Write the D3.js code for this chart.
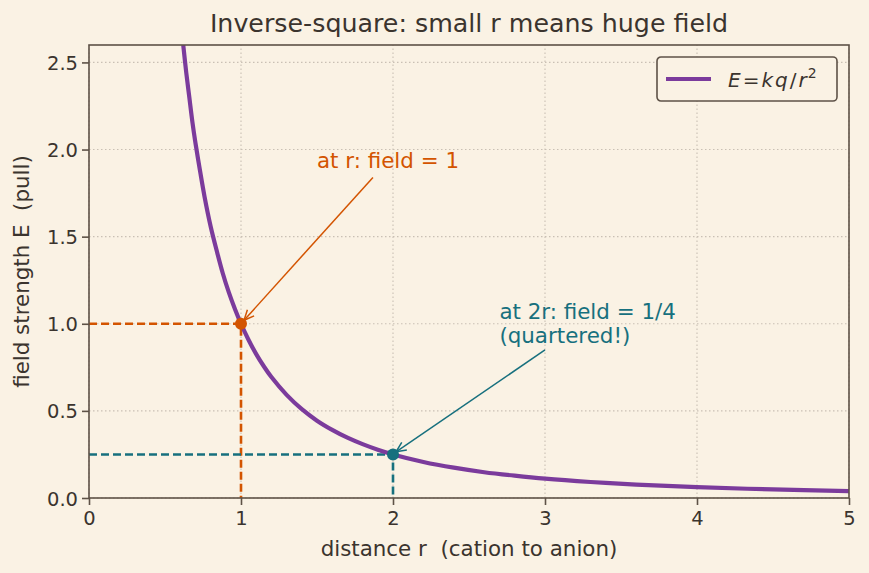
<!DOCTYPE html>
<html>
<head>
<meta charset="utf-8">
<script src="https://cdn.jsdelivr.net/npm/d3@7"></script>
<style>
  html, body { margin: 0; padding: 0; background: #faf2e4; }
  svg { display: block; font-family: "DejaVu Sans", sans-serif; }
  text { white-space: pre; }
</style>
</head>
<body>
<script>
'use strict';

// curve readings E(r)
const rValues = [0.62, 0.64, 0.66, 0.68, 0.70, 0.73, 0.76, 0.80, 0.84, 0.88, 0.92, 0.96, 1.00,
                 1.05, 1.10, 1.15, 1.20, 1.30, 1.40, 1.50, 1.60, 1.70, 1.80, 1.90, 2.00,
                 2.20, 2.40, 2.60, 2.80, 3.00, 3.30, 3.60, 4.00, 4.50, 5.00];
const eValues = [2.60, 2.44, 2.30, 2.16, 2.04, 1.88, 1.73, 1.56, 1.42, 1.29, 1.18, 1.085, 1.00,
                 0.907, 0.826, 0.756, 0.694, 0.592, 0.510, 0.444, 0.391, 0.346, 0.309, 0.277, 0.250,
                 0.207, 0.174, 0.148, 0.128, 0.111, 0.092, 0.077, 0.0625, 0.049, 0.040];

// marked points
const markR = [1, 2];
const markE = [1, 0.25];

const xTicks = [0, 1, 2, 3, 4, 5];
const yTicks = [0, 0.5, 1.0, 1.5, 2.0, 2.5];

const bg = '#faf2e4';
const ink = '#3b342e';
const spine = '#5e5247';
const purple = '#7b3b9c';
const orange = '#d35400';
const teal = '#17707e';

const W = 869, H = 573;
const m = { left: 89, right: 20, top: 45, bottom: 75 };

const svg = d3.select('body').append('svg')
  .attr('width', W)
  .attr('height', H);

svg.append('rect').attr('width', W).attr('height', H).attr('fill', bg);

const x = d3.scaleLinear().domain([0, 5]).range([m.left, W - m.right]);
const y = d3.scaleLinear().domain([0, 2.6]).range([H - m.bottom, m.top]);

// grid
svg.append('g')
  .selectAll('line')
  .data(xTicks)
  .enter().append('line')
  .attr('x1', d => x(d)).attr('x2', d => x(d))
  .attr('y1', y(0)).attr('y2', y(2.6))
  .attr('stroke', '#c9c0b4').attr('stroke-width', 1.1)
  .attr('stroke-dasharray', '1.5,2.5');

svg.append('g')
  .selectAll('line')
  .data(yTicks)
  .enter().append('line')
  .attr('y1', d => y(d)).attr('y2', d => y(d))
  .attr('x1', x(0)).attr('x2', x(5))
  .attr('stroke', '#c9c0b4').attr('stroke-width', 1.1)
  .attr('stroke-dasharray', '1.5,2.5');

svg.append('clipPath').attr('id', 'plot')
  .append('rect')
  .attr('x', x(0)).attr('y', y(2.6))
  .attr('width', x(5) - x(0)).attr('height', y(0) - y(2.6));

const plot = svg.append('g').attr('clip-path', 'url(#plot)');

// dashed guides
const guideColors = [orange, teal];
markR.forEach((r, i) => {
  plot.append('path')
    .attr('d', `M${x(0)},${y(markE[i])}H${x(r)}V${y(0)}`)
    .attr('fill', 'none')
    .attr('stroke', guideColors[i])
    .attr('stroke-width', 2.6)
    .attr('stroke-dasharray', '8,4');
});

// the curve
const curve = d3.line()
  .x((d, i) => x(rValues[i]))
  .y(d => y(d))
  .curve(d3.curveCatmullRom);

plot.append('path')
  .datum(eValues)
  .attr('fill', 'none')
  .attr('stroke', purple)
  .attr('stroke-width', 4.2)
  .attr('d', curve);

// points
markR.forEach((r, i) => {
  svg.append('circle')
    .attr('cx', x(r)).attr('cy', y(markE[i]))
    .attr('r', 6)
    .attr('fill', guideColors[i]);
});

// axes
const xAxis = d3.axisBottom(x).tickValues(xTicks).tickFormat(d3.format('d')).tickSizeOuter(0).tickSize(7).tickPadding(6);
const yAxis = d3.axisLeft(y).tickValues(yTicks).tickFormat(d3.format('.1f')).tickSizeOuter(0).tickSize(7).tickPadding(4);

const gx = svg.append('g').attr('transform', `translate(0,${y(0)})`).call(xAxis);
const gy = svg.append('g').attr('transform', `translate(${x(0)},0)`).call(yAxis);
[gx, gy].forEach(g => {
  g.select('.domain').remove();
  g.selectAll('line').attr('stroke', spine).attr('stroke-width', 1.6);
  g.selectAll('text').attr('fill', ink).style('font-size', '19.5px').style('font-family', '"DejaVu Sans", sans-serif');
});
gy.selectAll('text').attr('dy', '0.36em');

// frame
svg.append('rect')
  .attr('x', x(0)).attr('y', y(2.6))
  .attr('width', x(5) - x(0)).attr('height', y(0) - y(2.6))
  .attr('fill', 'none').attr('stroke', spine).attr('stroke-width', 1.6);

// labels
svg.append('text')
  .attr('x', (x(0) + x(5)) / 2).attr('y', 32)
  .attr('text-anchor', 'middle')
  .attr('fill', ink)
  .style('font-size', '25.3px')
  .text('Inverse-square: small r means huge field');

svg.append('text')
  .attr('x', (x(0) + x(5)) / 2).attr('y', 556)
  .attr('text-anchor', 'middle')
  .attr('fill', ink)
  .style('font-size', '21.4px')
  .text('distance r  (cation to anion)');

svg.append('text')
  .attr('transform', `translate(29,${(y(0) + y(2.6)) / 2})rotate(-90)`)
  .attr('text-anchor', 'middle')
  .attr('fill', ink)
  .style('font-size', '21.4px')
  .text('field strength E  (pull)');

// annotations
const defs = svg.append('defs');
[['arrO', orange], ['arrT', teal]].forEach(([id, c]) => {
  defs.append('marker')
    .attr('id', id)
    .attr('viewBox', '0 0 12 12')
    .attr('refX', 11).attr('refY', 6)
    .attr('markerWidth', 12).attr('markerHeight', 12)
    .attr('markerUnits', 'userSpaceOnUse')
    .attr('orient', 'auto')
    .append('path')
    .attr('d', 'M1,1.5L11,6L1,10.5')
    .attr('fill', 'none').attr('stroke', c).attr('stroke-width', 1.5);
});

svg.append('line')
  .attr('x1', x(1.868)).attr('y1', y(1.84))
  .attr('x2', x(1.02)).attr('y2', y(1.02))
  .attr('stroke', orange).attr('stroke-width', 1.5)
  .attr('marker-end', 'url(#arrO)');

svg.append('text')
  .attr('x', x(1.5)).attr('y', 168)
  .attr('fill', orange)
  .style('font-size', '21.4px')
  .text('at r: field = 1');

svg.append('line')
  .attr('x1', x(3.0)).attr('y1', y(0.85))
  .attr('x2', x(2.02)).attr('y2', y(0.265))
  .attr('stroke', teal).attr('stroke-width', 1.5)
  .attr('marker-end', 'url(#arrT)');

const tt = svg.append('text')
  .attr('x', x(2.7)).attr('y', 319)
  .attr('fill', teal)
  .style('font-size', '21.4px');
tt.append('tspan').attr('x', x(2.7)).text('at 2r: field = 1/4');
tt.append('tspan').attr('x', x(2.7)).attr('dy', 24).text('(quartered!)');

// legend
const lg = svg.append('g').attr('transform', 'translate(657,57)');
lg.append('rect')
  .attr('width', 180).attr('height', 44).attr('rx', 4)
  .attr('fill', bg).attr('stroke', spine).attr('stroke-width', 1.6);
lg.append('line')
  .attr('x1', 9).attr('x2', 54).attr('y1', 22).attr('y2', 22)
  .attr('stroke', purple).attr('stroke-width', 4.2);
const lt = lg.append('text')
  .attr('x', 71).attr('y', 30)
  .attr('fill', ink)
  .style('font-size', '20px')
  .style('font-style', 'italic');
lt.append('tspan').text('E');
lt.append('tspan').attr('dx', 2).style('font-style', 'normal').text('=');
lt.append('tspan').attr('dx', 2).text('k');
lt.append('tspan').attr('dx', 2).text('q');
lt.append('tspan').attr('dx', 2).style('font-style', 'normal').text('/');
lt.append('tspan').attr('dx', 2).text('r');
lt.append('tspan').attr('dy', -9).attr('dx', 1).style('font-size', '14px').style('font-style', 'normal').text('2');
</script>
</body>
</html>
